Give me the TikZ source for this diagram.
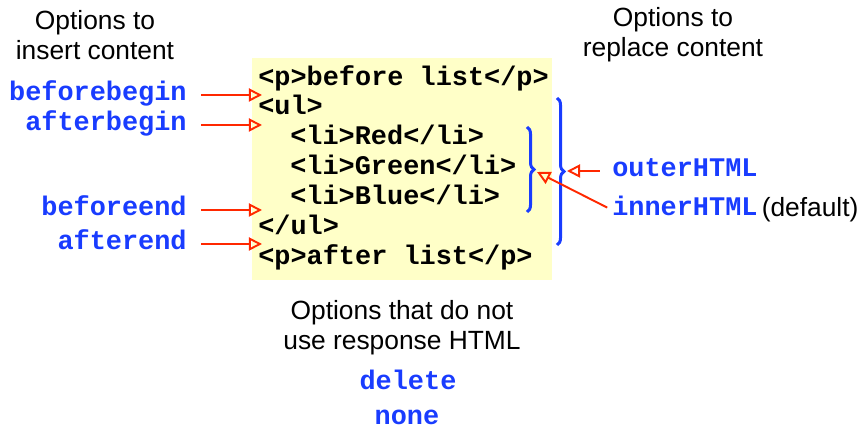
\documentclass[tikz,border=0pt]{standalone}
\usepackage{fontspec}
\setmainfont{Liberation Sans}
\newfontfamily\codefont{Liberation Mono}
\usetikzlibrary{positioning,calc}
\usetikzlibrary{arrows.meta,decorations.pathreplacing}
\definecolor{OptBlue}{RGB}{25,60,255}
\definecolor{ArrRed}{RGB}{255,40,0}
\definecolor{CodeYellow}{RGB}{255,255,200}
\tikzset{
  codebox/.style={fill=CodeYellow,draw=none,inner sep=0pt},
  codeline/.style={anchor=west,inner sep=0pt,text height=1.5ex,text depth=.3ex,
    font=\codefont\bfseries\fontsize{15.3}{17}\selectfont},
  opt/.style={codeline,text=OptBlue},
  note/.style={align=center,inner sep=0pt,font=\fontsize{15}{17}\selectfont},
}
\tikzset{ins/.style={draw=ArrRed,line width=1.1pt,-{Triangle[open,length=7.5pt,width=7.5pt]}},
  brc/.style={draw=OptBlue,line width=1.7pt,decorate,decoration={brace,amplitude=4pt}}}
\begin{document}
\begin{tikzpicture}[x=0.02cm,y=-0.02cm]
\useasboundingbox (0,0) rectangle (860,428);
\fill[CodeYellow] (252,58) rectangle (552,280);
\node[codeline] (l1) at (258,80) {<p>before list</p>};
\node[codeline] (l2) at (258,109) {<ul>};
\node[codeline] (l3) at (290,139) {<li>Red</li>};
\node[codeline] (l4) at (290,169) {<li>Green</li>};
\node[codeline] (l5) at (290,199) {<li>Blue</li>};
\node[codeline] (l6) at (258,229) {</ul>};
\node[codeline] (l7) at (258,259) {<p>after list</p>};
\node[note] (insert) at (95,35) {Options to\\insert content};
\node[note] (replace) at (673,35) {Options to\\replace content};
\node[note] (nouse) at (402,328) {Options that do not\\use response HTML};
\node[opt,anchor=east] (bb) at (187,95) {beforebegin};
\node[opt,anchor=east] (ab) at (187,125) {afterbegin};
\node[opt,anchor=east] (be) at (187,210) {beforeend};
\node[opt,anchor=east] (ae) at (187,244) {afterend};
\node[opt] (outer) at (612,171) {outerHTML};
\node[opt] (inner) at (612,210) {innerHTML};
\node[note,right=2pt of inner] (dflt) {(default)};
\node[opt,anchor=center] (del) at (408,384) {delete};
\node[opt,anchor=center] (none) at (407,419) {none};
\coordinate (tbb) at (262,95);
\coordinate (tab) at (262,125);
\coordinate (tbe) at (262,210);
\coordinate (tae) at (262,244);
\coordinate (tout) at (567,171);
\coordinate (tin) at (537,172);
\draw[brc] (557,98) -- (557,245);
\draw[brc] (527,127) -- (527,212);
\draw[ins,shorten <=8pt] (bb.east) -- (tbb);
\draw[ins,shorten <=8pt] (ab.east) -- (tab);
\draw[ins,shorten <=8pt] (be.east) -- (tbe);
\draw[ins,shorten <=8pt] (ae.east) -- (tae);
\draw[ins,shorten <=7pt] (outer.west) -- (tout);
\draw[ins,shorten <=3pt] (inner.west) -- (tin);
\end{tikzpicture}
\end{document}
